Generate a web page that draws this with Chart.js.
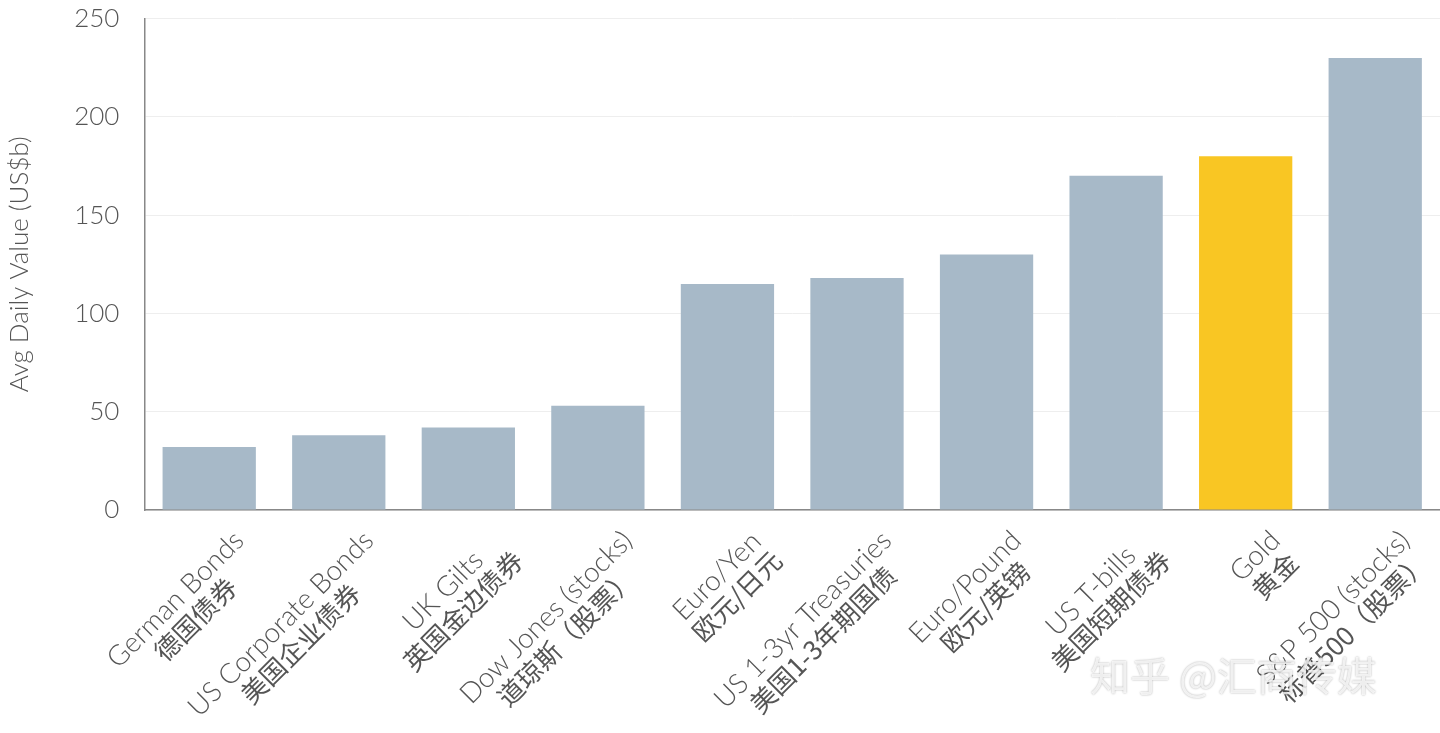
<!DOCTYPE html>
<html>
<head>
<meta charset="utf-8">
<script src="https://cdn.jsdelivr.net/npm/chart.js@4"></script>
<style>
  html, body { margin: 0; padding: 0; background: #fff; overflow: hidden; }
  #wrap { position: relative; width: 1440px; height: 733px; overflow: hidden; }
  #c { position: absolute; left: 0; top: -22px; }
  #mark { position: absolute; left: 1090px; top: 645px; font: 40px "Noto Sans CJK SC"; color: rgba(255,255,255,0.8);
          text-shadow: 0 0 2px rgba(0,0,0,0.35); }
</style>
</head>
<body>
<div id="wrap"><canvas id="c" width="1440" height="755"></canvas><div id="mark">知乎 @汇商传媒</div></div>
<script>
var labelsEn = ['German Bonds', 'US Corporate Bonds', 'UK Gilts', 'Dow Jones (stocks)', 'Euro/Yen',
  'US 1-3yr Treasuries', 'Euro/Pound', 'US T-bills', 'Gold', 'S&P 500 (stocks)'];
var labelsCn = ['德国债券', '美国企业债券', '英国金边债券', '道琼斯（股票）', '欧元/日元',
  '美国1-3年期国债', '欧元/英镑', '美国短期债券', '黄金', '标普500（股票）'];
var values = [32, 38, 42, 53, 115, 118, 130, 170, 180, 230];
var yTicks = [0, 50, 100, 150, 200, 250];

var FONT = '"Lato", "Noto Sans CJK SC", sans-serif';

var slantLabels = {
  id: 'slantLabels',
  afterDraw: function (chart) {
    var ctx = chart.ctx, xs = chart.scales.x, top = chart.chartArea.bottom;
    ctx.save();
    ctx.fillStyle = '#555';
    labelsEn.forEach(function (en, i) {
      var x = xs.getPixelForTick(i);
      ctx.font = '300 28px ' + FONT;
      var w = ctx.measureText(en).width;
      ctx.font = '400 26px "Noto Sans CJK SC"';
      w = Math.max(w, ctx.measureText(labelsCn[i]).width);
      ctx.save();
      ctx.translate(x + 20, top + 16);
      ctx.rotate(-Math.PI / 4);
      ctx.textAlign = 'center';
      ctx.textBaseline = 'top';
      ctx.font = '300 28px ' + FONT;
      ctx.fillText(en, -w / 2, 0);
      ctx.font = '400 26px "Noto Sans CJK SC"';
      ctx.fillText(labelsCn[i], -w / 2, 29);
      ctx.restore();
    });
    ctx.restore();
  }
};

new Chart(document.getElementById('c'), {
  type: 'bar',
  data: {
    labels: labelsEn,
    datasets: [{
      data: values,
      backgroundColor: values.map(function (v, i) { return labelsEn[i] === 'Gold' ? '#f9c623' : '#a7b9c8'; }),
      barPercentage: 0.72,
      categoryPercentage: 1
    }]
  },
  options: {
    responsive: false,
    animation: false,
    layout: { padding: { top: 0, bottom: 215, right: 0 } },
    plugins: { legend: { display: false }, tooltip: { enabled: false } },
    scales: {
      x: {
        grid: { display: false },
        border: { color: '#888', width: 1.5 },
        ticks: { display: false }
      },
      y: {
        min: 0, max: 250,
        afterBuildTicks: function (s) { s.ticks = yTicks.map(function (v) { return { value: v }; }); },
        grid: { color: '#eee', drawTicks: false },
        border: { color: '#888', width: 1.5 },
        ticks: { color: '#555', font: { family: FONT, size: 26, weight: 300 }, padding: 25 },
        title: { display: true, text: 'Avg Daily Value (US$b)', color: '#555',
                 font: { family: FONT, size: 26, weight: 300 }, padding: { bottom: 14 } }
      }
    }
  },
  plugins: [slantLabels]
});
</script>
</body>
</html>
